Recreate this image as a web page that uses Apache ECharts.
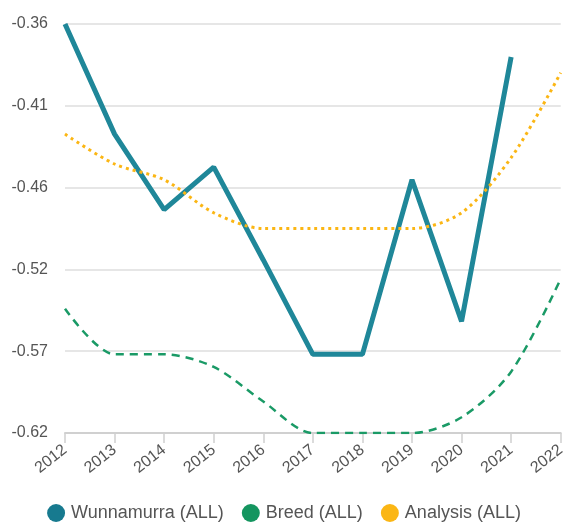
<!DOCTYPE html>
<html>
<head>
<meta charset="utf-8">
<script src="https://cdn.jsdelivr.net/npm/echarts@6/dist/echarts.min.js"></script>
<style>
  html, body { margin: 0; padding: 0; background: #fff; }
  #chart { width: 568px; height: 524px; }
</style>
</head>
<body>
<div id="chart"></div>
<script>
// data
const years = ['2012', '2013', '2014', '2015', '2016', '2017', '2018', '2019', '2020', '2021', '2022']
const wunnamurra = [-0.36, -0.43, -0.478, -0.451, -0.51, -0.570, -0.570, -0.459, -0.549, -0.381, null]
const breed = [-0.541, -0.570, -0.570, -0.578, -0.600, -0.620, -0.620, -0.620, -0.610, -0.581, -0.522]
const analysis = [-0.430, -0.449, -0.459, -0.480, -0.490, -0.490, -0.490, -0.490, -0.480, -0.445, -0.391]

const chart = echarts.init(document.getElementById('chart'))

const font = 'Arial, Liberation Sans, sans-serif'

const option = {
  animation: false,
  grid: {
    left: 65,
    right: 3,
    top: 24,
    bottom: 91
  },
  legend: {
    top: 504,
    left: 'center',
    padding: 0,
    icon: 'circle',
    itemWidth: 18,
    itemHeight: 18,
    itemGap: 18,
    textStyle: { color: '#555', fontSize: 18, fontFamily: font, padding: [0, 0, 0, 1] },
    data: ['Wunnamurra (ALL)', 'Breed (ALL)', 'Analysis (ALL)']
  },
  xAxis: {
    type: 'category',
    data: years,
    boundaryGap: false,
    axisLine: { lineStyle: { color: '#d0d0d0', width: 2 } },
    axisTick: { show: true, length: 10, lineStyle: { color: '#d0d0d0', width: 1.5 } },
    axisLabel: {
      rotate: 38,
      color: '#555',
      fontSize: 16,
      margin: 15,
      fontFamily: font
    }
  },
  yAxis: {
    type: 'value',
    min: -0.62,
    max: -0.36,
    interval: 0.052,
    axisLine: { show: false },
    axisTick: { show: false },
    splitLine: { lineStyle: { color: '#e6e6e6', width: 2 } },
    axisLabel: {
      color: '#555',
      fontSize: 16,
      margin: 17,
      fontFamily: font,
      formatter: v => v.toFixed(2)
    }
  },
  series: [
    {
      name: 'Wunnamurra (ALL)',
      type: 'line',
      data: wunnamurra,
      showSymbol: false,
      symbol: 'circle',
      itemStyle: { color: '#177a8f' },
      lineStyle: { color: '#1f8799', width: 5 },
      z: 3
    },
    {
      name: 'Breed (ALL)',
      type: 'line',
      data: breed,
      smooth: 0.3,
      showSymbol: false,
      symbol: 'circle',
      itemStyle: { color: '#14955f' },
      lineStyle: { color: '#1a9a66', width: 2.5, type: [8, 6] }
    },
    {
      name: 'Analysis (ALL)',
      type: 'line',
      data: analysis,
      smooth: 0.3,
      showSymbol: false,
      symbol: 'circle',
      itemStyle: { color: '#fbb614' },
      lineStyle: { color: '#fbb614', width: 3, type: [3, 4] }
    }
  ]
}

chart.setOption(option)
</script>
</body>
</html>
